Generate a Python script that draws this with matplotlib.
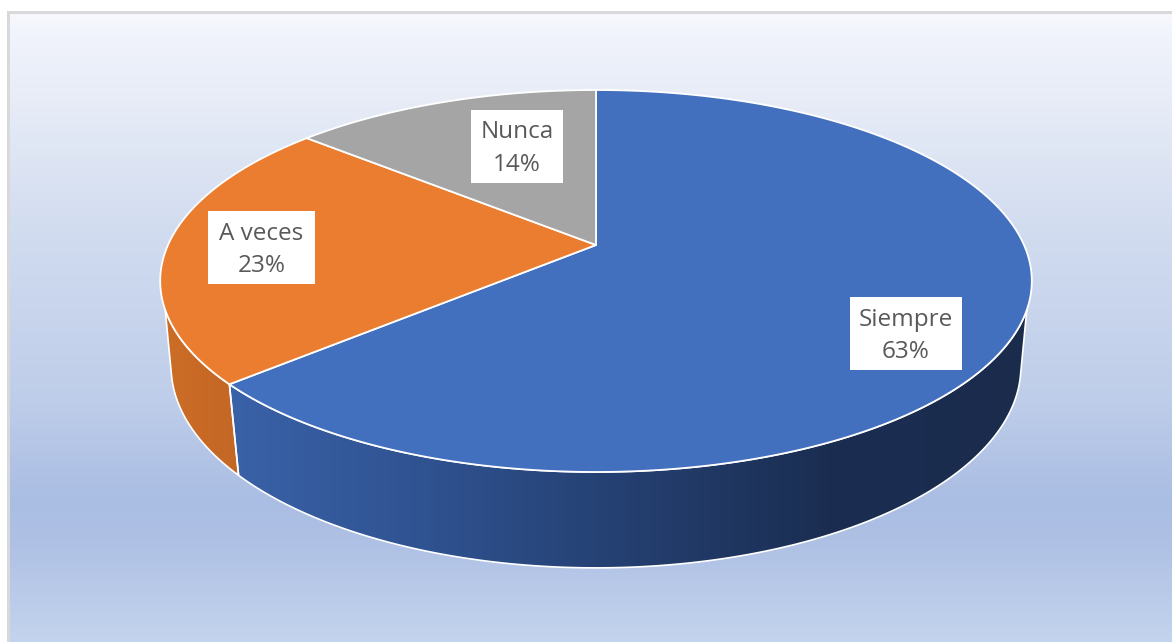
import numpy as np
import matplotlib
matplotlib.use("Agg")
import matplotlib.pyplot as plt
from matplotlib.colors import LinearSegmentedColormap, to_rgb
from matplotlib.patches import Polygon, Rectangle

# ---- data ----
categories = ["Siempre", "A veces", "Nunca"]
shares = [63.49, 22.8, 13.71]

# ---- style / layout ----
W, H = 1172, 642
top_colors = ["#4270BF", "#EB7D30", "#A5A5A5"]
side_stops = [["#3A62A8", "#2F5290", "#243F70", "#1B2E52", "#1A2B4C"],
              ["#CC6D27", "#C46725"], None]
label_centers = [(906, 333.5), (261.5, 247.5), (517, 146)]
label_sizes = [(112, 73), (107, 73), (92, 73)]
bg_pos = [0, 14, 40, 100, 240, 400, 500, 540, 642]
bg_cols = ["#F6F8FD", "#F6F8FD", "#F0F3FB", "#E7ECF7", "#D0DBEF", "#BECDE9", "#AABDE3", "#AEC0E4", "#C4D4EE"]

# perspective pie geometry
CX, CY, KP, AY, BX = 596.0, 245.0, 0.1885, 184.2, 428.0
SX, CY2, SY = 0.975, 328.4, 1.055
SIL_TOP, SIL_LOW = 109.3, 103.0  # silhouette angles (deg) on the upper and lower rim


def rim(theta_deg):
    t = np.radians(theta_deg)
    u, v = np.sin(t), np.cos(t)
    d = 1 + KP * v
    return CX + BX * u / d, CY - AY * v / d


def lower(theta_deg):
    x, y = rim(theta_deg)
    return CX + (x - CX) * SX, CY2 + (y - CY) * SY


fig = plt.figure(figsize=(W / 100, H / 100), dpi=100, facecolor="white")
ax = fig.add_axes([0, 0, 1, 1])
ax.set_axis_off()

# background gradient
ys = np.arange(H)
rgb = np.array([np.interp(ys, bg_pos, [to_rgb(c)[i] for c in bg_cols]) for i in range(3)]).T
ax.imshow(rgb[14:, None, :], extent=(10, W, H, 14), aspect="auto", zorder=1,
          interpolation="bilinear")
ax.add_patch(Rectangle((7, 11), W - 7, 3, fc="#D9D9D9", ec="none", zorder=2))
ax.add_patch(Rectangle((7, 11), 3, H - 11, fc="#D9D9D9", ec="none", zorder=2))

# cumulative angles, clockwise from 12 o'clock
bounds = np.concatenate([[0], np.cumsum(shares)]) / np.sum(shares) * 360

# side walls
for i, stops in enumerate(side_stops):
    if stops is None:
        continue
    t0, t1 = max(bounds[i], SIL_TOP), min(bounds[i + 1], 360 - SIL_TOP)
    l0, l1 = max(bounds[i], SIL_LOW), min(bounds[i + 1], 360 - SIL_LOW)
    tx, ty = rim(np.linspace(t0, t1, 200))
    lx, ly = lower(np.linspace(l1, l0, 200))
    pts = np.column_stack([np.r_[tx, lx], np.r_[ty, ly]])
    poly = Polygon(pts, closed=True, fc="none", ec="none", zorder=3)
    ax.add_patch(poly)
    x0, x1 = pts[:, 0].min(), pts[:, 0].max()
    cmap = LinearSegmentedColormap.from_list("s", stops)
    im = ax.imshow(np.linspace(0, 1, 256)[None, :], extent=(x0, x1, 600, 250), cmap=cmap,
                   aspect="auto", zorder=3, interpolation="bilinear")
    im.set_clip_path(poly)
    ax.add_patch(Polygon(pts, closed=True, fc="none", ec="white", lw=1.2, zorder=4,
                         joinstyle="round"))

# top face
for i in range(len(shares)):
    th = np.linspace(bounds[i], bounds[i + 1], 300)
    x, y = rim(th)
    pts = np.column_stack([np.r_[CX, x], np.r_[CY, y]])
    ax.add_patch(Polygon(pts, closed=True, fc=top_colors[i], ec="white", lw=1.3,
                         zorder=5, joinstyle="round"))

# labels
for name, val, c, s in zip(categories, shares, label_centers, label_sizes):
    ax.add_patch(Rectangle((c[0] - s[0] / 2, c[1] - s[1] / 2), s[0], s[1], fc="white",
                           ec="none", zorder=6))
    ax.text(c[0], c[1] + 2.5, f"{name}\n{val:.0f}%", ha="center", va="center", color="#595959",
            fontsize=17.5, family="Open Sans", linespacing=1.45, zorder=7)

ax.set_xlim(0, W)
ax.set_ylim(H, 0)
fig.savefig("out.png", dpi=100, facecolor="white")
